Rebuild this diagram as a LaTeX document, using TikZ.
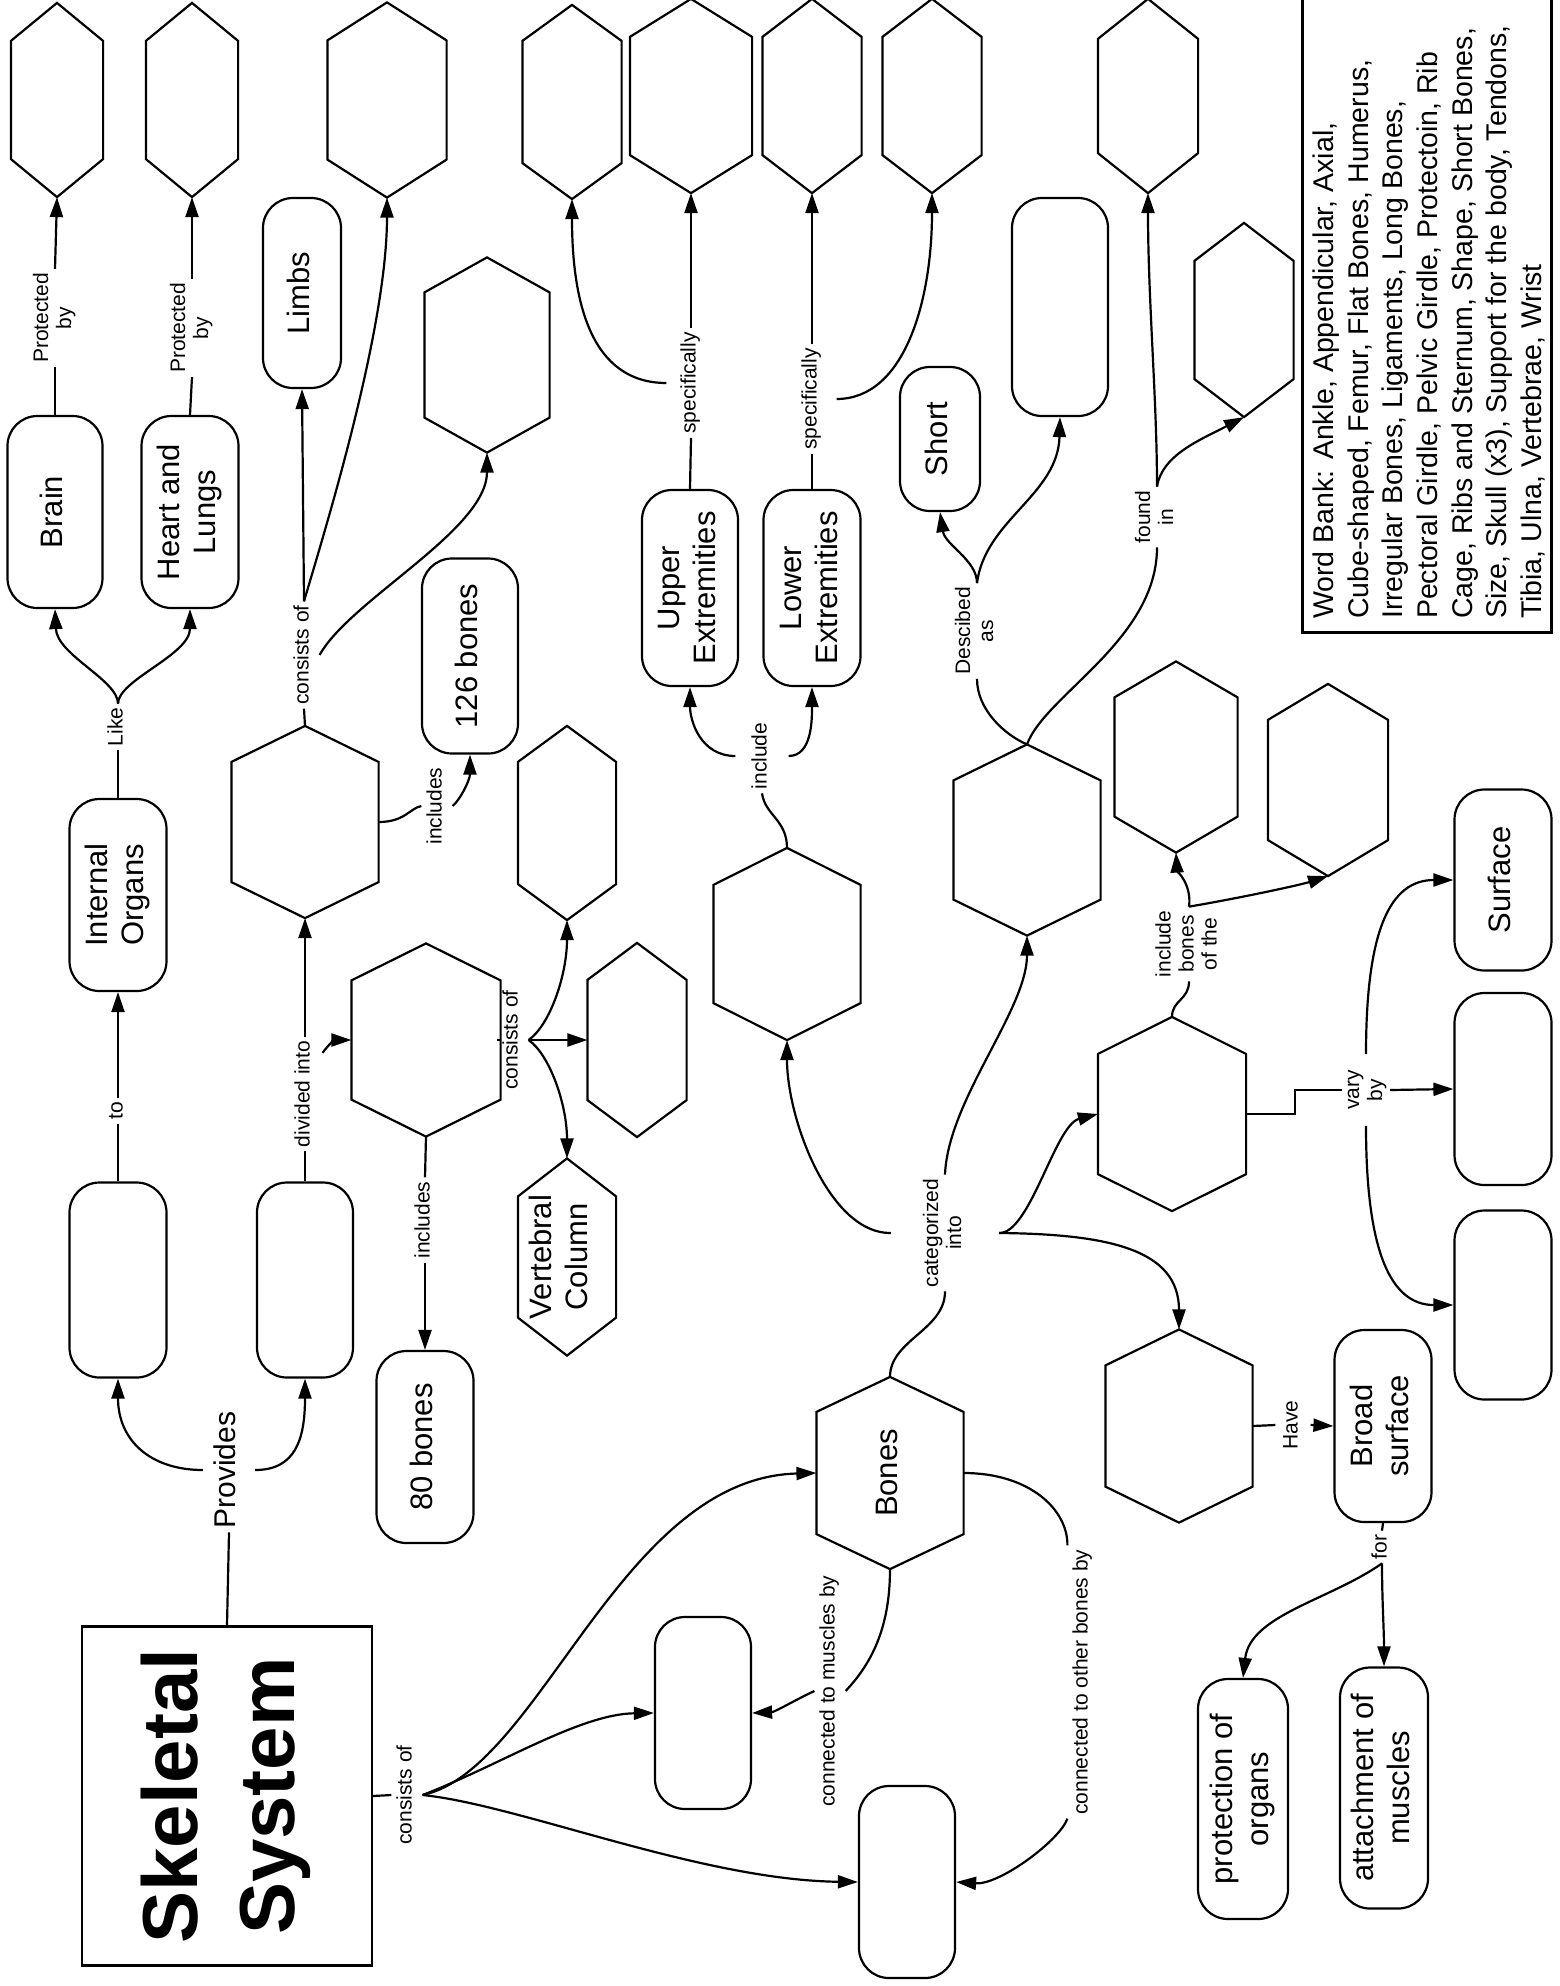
\documentclass[tikz,border=0pt]{standalone}
\usepackage{fontspec}
\setmainfont{Liberation Sans}
\usetikzlibrary{arrows.meta,calc}
\newcommand{\rt}[1]{\rotatebox{90}{\begin{tabular}{@{}c@{}}#1\end{tabular}}}
\newcommand{\nfont}{\fontsize{31}{36}\selectfont}
\newcommand{\lfont}{\fontsize{21}{23}\selectfont}
\newcommand{\hexa}[7]{%
  \node[hexbox, sz={#4}{#5}] (#1) at (#2,#3) {#7};
  \draw[hexline] (#1.north) -- ($(#1.north east)+(0,#6)$) -- ($(#1.south east)+(0,-#6)$) -- (#1.south) -- ($(#1.south west)+(0,-#6)$) -- ($(#1.north west)+(0,#6)$) -- cycle;
}
\begin{document}
\begin{tikzpicture}[x=1pt,y=-1pt,
  line width=2.2pt,
  hexbox/.style={inner sep=0pt, font=\nfont},
  hexline/.style={line width=2.2pt, line join=miter},
  stad/.style={draw, line width=2.2pt, rounded corners=30pt, inner sep=0pt, font=\nfont},
  sz/.style 2 args={minimum width=#1pt, minimum height=#2pt},
  lab/.style={inner sep=3pt, font=\lfont},
  arr/.style={-{Triangle[length=20pt,width=13pt]}},
]
\fill[white] (0,0) rectangle (1559,1986);
\useasboundingbox (0,0) rectangle (1559,1986);

% ---------- hexagons ----------
\hexa{hA}{57}{100}{90}{192}{38}{}
\hexa{hB}{192}{100}{90}{192}{38}{}
\hexa{hC}{387}{100}{117}{193}{38}{}
\hexa{hD}{572}{102}{97}{192}{36}{}
\hexa{hE}{691}{96}{120}{192}{38}{}
\hexa{hF}{812}{96}{97}{192}{38}{}
\hexa{hG}{932}{96}{97}{192}{38}{}
\hexa{hH}{1148}{96}{98}{192}{40}{}
\hexa{hU}{1244}{320}{97}{192}{38}{}
\hexa{hJ}{487}{355}{123}{193}{35}{}
\hexa{hI}{305}{822}{145}{190}{36}{}
\hexa{hK}{426}{1040}{147}{191}{37}{}
\hexa{hL}{567}{823}{96}{192}{36}{}
\hexa{hM}{637}{1040}{97}{192}{37}{}
\hexa{hVC}{567}{1257}{96}{195}{38}{\hspace*{-10pt}\rt{Vertebral\\Column}}
\hexa{hP}{787}{944}{145}{190}{37}{}
\hexa{hQ}{1027}{840}{145}{189}{36}{}
\hexa{hR}{1172}{1114}{146}{192}{37}{}
\hexa{hV}{1176}{757}{121}{189}{36}{}
\hexa{hW}{1328}{780}{118}{190}{36}{}
\hexa{hS}{1179}{1426}{145}{191}{36}{}
\hexa{hBones}{890}{1473}{145}{190}{35}{\rt{Bones}}

% ---------- rounded boxes ----------
\node[stad, sz={95}{192}] (brain) at (55,512) {\rt{Brain}};
\node[stad, sz={97}{192}] (heart) at (190,512) {\rt{Heart and\\Lungs}};
\node[stad, sz={78}{190}] (limbs) at (302,293) {\rt{Limbs}};
\node[stad, sz={97}{192}] (organs) at (118,895) {\rt{Internal\\Organs}};
\node[stad, sz={97}{195}] (e1) at (118,1280) {};
\node[stad, sz={96}{195}] (e2) at (305,1280) {};
\node[stad, sz={96}{195}] (b126) at (470,656) {\rt{126 bones}};
\node[stad, sz={97}{192}] (b80) at (425,1447) {\rt{80 bones}};
\node[stad, sz={96}{196}] (upper) at (690,588) {\rt{Upper\\Extremities}};
\node[stad, sz={97}{196}] (lower) at (812,588) {\rt{Lower\\Extremities}};
\node[stad, sz={80}{144}] (short) at (940,439) {\rt{Short}};
\node[stad, sz={96}{218}] (sT) at (1060,307) {};
\node[stad, sz={97}{181}] (surface) at (1503,880) {\rt{Surface}};
\node[stad, sz={97}{192}] (sX) at (1503,1089) {};
\node[stad, sz={97}{189}] (sY) at (1503,1305) {};
\node[stad, sz={97}{192}] (broad) at (1383,1426) {\rt{Broad\\surface}};
\node[stad, sz={90}{240}] (prot) at (1243,1799) {\rt{protection of\\organs}};
\node[stad, sz={88}{241}] (attach) at (1384,1788) {\rt{attachment of\\muscles}};
\node[stad, sz={96}{192}] (sN) at (703,1713) {};
\node[stad, sz={96}{192}] (sO) at (907,1882) {};

% ---------- title and word bank ----------
\node[draw, sz={290}{339}, inner sep=0pt, font=\fontsize{78}{97}\selectfont\bfseries] (sk) at (227,1796) {\rt{Skeletal\\System}};
\node[draw, sz={249}{645}, inner sep=0pt] (wb) at (1427,310) {};
\node[inner sep=0pt, anchor=south west, font=\fontsize{28.5}{34.7}\selectfont] (wbt) at (1308,620) {\rotatebox{90}{\begin{tabular}{@{}l@{}}Word Bank: Ankle, Appendicular, Axial,\\Cube-shaped, Femur, Flat Bones, Humerus,\\Irregular Bones, Ligaments, Long Bones,\\Pectoral Girdle, Pelvic Girdle, Protectoin, Rib\\Cage, Ribs and Sternum, Shape, Short Bones,\\Size, Skull (x3), Support for the body, Tendons,\\Tibia, Ulna, Vertebrae, Wrist\end{tabular}}};

% ---------- labels ----------
\node[lab] (lp1) at (55,318) {\rt{Protected\\by}};
\node[lab] (lp2) at (192,328) {\rt{Protected\\by}};
\node[lab] (llike) at (118,727) {\rt{Like}};
\node[lab] (lto) at (118,1111) {\rt{to}};
\node[lab] (ldiv) at (305,1094) {\rt{divided into}};
\node[lab] (lcons1) at (304,655) {\rt{consists of}};
\node[lab] (linc1) at (437,806) {\rt{includes}};
\node[lab] (lcons2) at (513,1040) {\rt{consists of}};
\node[lab] (linc2) at (425,1220) {\rt{includes}};
\node[lab, font=\fontsize{30}{34}\selectfont, inner xsep=8pt] (lprov) at (229,1470) {\rt{Provides}};
\node[lab] (lcons3) at (407,1795) {\rt{consists of}};
\node[lab] (lmus) at (830,1691) {\rt{connected to muscles by}};
\node[lab] (loth) at (1083,1682) {\rt{connected to other bones by}};
\node[lab, inner xsep=30pt] (lcat) at (945,1233) {\rt{categorized\\into}};
\node[lab, inner xsep=14pt] (lincl) at (762,756) {\rt{include}};
\node[lab, inner xsep=12pt] (lsp1) at (691,383) {\rt{specifically}};
\node[lab, inner xsep=12pt] (lsp2) at (812,399) {\rt{specifically}};
\node[lab] (ldesc) at (977,631) {\rt{Descibed\\as}};
\node[lab] (lfound) at (1157,517) {\rt{found\\in}};
\node[lab] (lbones) at (1189,944) {\rt{include\\bones\\of the}};
\node[lab, inner xsep=0pt, inner ysep=15pt] (lvary) at (1366,1090) {\rt{vary\\by}};
\node[lab, inner sep=5pt] (lhave) at (1293,1425) {\rt{Have}};
\node[lab] (lfor) at (1382,1547) {\rt{for}};

% ---------- connectors ----------
\draw (brain.north) -- (lp1.south);
\draw[arr] (lp1.north) -- (hA.south);
\draw (heart.north) -- (lp2.south);
\draw[arr] (lp2.north) -- (hB.south);
\draw (organs.north) -- (llike.south);
\draw[arr] (llike.north) .. controls (118,680) and (57,655) .. (brain.south);
\draw[arr] (llike.north) .. controls (118,680) and (190,655) .. (heart.south);
\draw (e1.north) -- (lto.south);
\draw[arr] (lto.north) -- (organs.south);
\draw (e2.north) -- (ldiv.south);
\draw[arr] (ldiv.north) -- (hI.south);
\draw[arr] ($(ldiv.north east)+(2,16)$) .. controls (328,1045) and (335,1040) .. (hK.west);
\draw (hI.north) -- (lcons1.south);
\draw[arr] (lcons1.north) -- (limbs.south);
\draw[arr] (lcons1.north) .. controls (325,530) and (387,330) .. (hC.south);
\draw[arr] (lcons1.east) .. controls (350,600) and (487,530) .. (hJ.south);
\draw (hI.east) .. controls (405,822) and (410,808) .. (linc1.west);
\draw[arr] (linc1.east) .. controls (460,800) and (470,780) .. (b126.south);
\draw (hK.east) -- (lcons2.west);
\draw[arr] (lcons2.east) .. controls (550,1025) and (567,975) .. (hL.south);
\draw[arr] (lcons2.east) -- (hM.west);
\draw[arr] (lcons2.east) .. controls (550,1055) and (567,1105) .. (hVC.north);
\draw (hK.south) -- (linc2.north);
\draw[arr] (linc2.south) -- (b80.north);
\draw (sk.north) -- (lprov.south);
\draw[arr] (lprov.west) .. controls (150,1470) and (118,1440) .. (e1.south);
\draw[arr] (lprov.east) .. controls (295,1470) and (305,1440) .. (e2.south);
\draw (sk.east) -- (lcons3.west);
\draw[arr] (lcons3.east) .. controls (540,1770) and (620,1478) .. (hBones.west);
\draw[arr] (lcons3.east) .. controls (500,1765) and (580,1714) .. (sN.west);
\draw[arr] (lcons3.east) .. controls (520,1805) and (700,1880) .. (sO.west);
\draw (hBones.south) .. controls (890,1630) and (870,1665) .. (lmus.east);
\draw[arr] (lmus.west) .. controls (795,1700) and (775,1712) .. (sN.east);
\draw (hBones.east) .. controls (1030,1473) and (1068,1510) .. (loth.north west);
\draw[arr] (loth.south west) .. controls (1060,1840) and (1000,1885) .. (sO.east);
\draw (hBones.north) .. controls (890,1340) and (945,1330) .. (lcat.south);
\draw[arr] (lcat.north) .. controls (948,1100) and (1027,1010) .. (hQ.south);
\draw[arr] (lcat.west) .. controls (830,1234) and (787,1120) .. (hP.south);
\draw[arr] (lcat.east) .. controls (1030,1234) and (1055,1125) .. (hR.west);
\draw[arr] (lcat.east) .. controls (1110,1234) and (1179,1250) .. (hS.north);
\draw (hP.north) .. controls (787,820) and (765,815) .. (lincl.south);
\draw[arr] (lincl.west) .. controls (700,756) and (690,720) .. (upper.south);
\draw[arr] (lincl.east) .. controls (812,756) and (812,720) .. (lower.south);
\draw (upper.north) -- (lsp1.south);
\draw[arr] (lsp1.north) -- (hE.south);
\draw[arr] (lsp1.west) .. controls (590,383) and (572,300) .. (hD.south);
\draw (lower.north) -- (lsp2.south);
\draw[arr] (lsp2.north) -- (hF.south);
\draw[arr] (lsp2.east) .. controls (905,399) and (932,300) .. (hG.south);
\draw (hQ.north) .. controls (1005,735) and (977,710) .. (ldesc.south);
\draw[arr] (ldesc.north) .. controls (977,560) and (945,545) .. (short.south);
\draw[arr] (ldesc.north) .. controls (985,520) and (1058,495) .. (sT.south);
\draw (hQ.north) .. controls (1045,695) and (1157,640) .. (lfound.south);
\draw[arr] (lfound.north) .. controls (1157,400) and (1148,300) .. (hH.south);
\draw[arr] (lfound.north) .. controls (1162,455) and (1200,440) .. (hU.south);
\draw (hR.north) .. controls (1172,1000) and (1189,1000) .. (lbones.south);
\draw[arr] (lbones.north) .. controls (1192,885) and (1177,870) .. (hV.south);
\draw[arr] (lbones.north) .. controls (1240,898) and (1300,885) .. (hW.south);
\draw (hR.east) -- ++(49,0) |- (lvary.west);
\draw[arr] (lvary.east) -- (sX.west);
\draw[arr] (lvary.north) .. controls (1366,930) and (1390,880) .. (surface.west);
\draw[arr] (lvary.south) .. controls (1366,1250) and (1390,1305) .. (sY.west);
\draw (hS.east) -- (lhave.west);
\draw[arr] (lhave.east) -- (broad.west);
\draw (broad.south) -- (lfor.north);
\draw[arr] (lfor.south) .. controls (1330,1600) and (1250,1615) .. (prot.north);
\draw[arr] (lfor.south) .. controls (1382,1600) and (1384,1630) .. (attach.north);
\end{tikzpicture}
\end{document}
